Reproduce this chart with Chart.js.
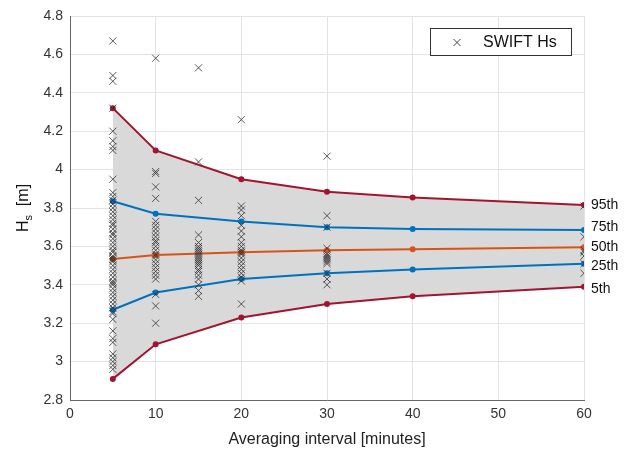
<!DOCTYPE html>
<html>
<head>
<meta charset="utf-8">
<script src="https://cdn.jsdelivr.net/npm/chart.js@4.4.1/dist/chart.umd.min.js"></script>
<style>
  html, body { margin: 0; padding: 0; background: #fff; }
  #wrap { width: 637px; height: 453px; }
</style>
</head>
<body>
<div id="wrap"><canvas id="chart" width="637" height="453"></canvas></div>
<script>
// Averaging intervals where percentiles were computed
const intervals = [5, 10, 20, 30, 40, 60];

// Percentile curves (Hs, m)
const p95 = [4.32, 4.10, 3.95, 3.885, 3.855, 3.815];
const p75 = [3.835, 3.77, 3.73, 3.70, 3.69, 3.685];
const p50 = [3.535, 3.555, 3.57, 3.58, 3.585, 3.595];
const p25 = [3.27, 3.36, 3.43, 3.46, 3.48, 3.51];
const p5  = [2.91, 3.09, 3.23, 3.30, 3.34, 3.39];

// SWIFT Hs samples per averaging interval
const swift5 = [4.67, 4.49, 4.46, 4.32, 4.20, 4.15, 4.12, 4.10, 3.95, 3.88, 3.86, 3.84, 3.82, 3.80,
  3.78, 3.76, 3.74, 3.72, 3.71, 3.69, 3.67, 3.66, 3.64, 3.62, 3.60, 3.58, 3.57, 3.55, 3.54, 3.53,
  3.52, 3.50, 3.48, 3.46, 3.44, 3.42, 3.41, 3.40, 3.38, 3.36, 3.34, 3.32, 3.30, 3.28, 3.26, 3.25,
  3.22, 3.16, 3.12, 3.10, 3.04, 3.02, 3.00, 2.98, 2.96];
const swift10 = [4.58, 3.99, 3.98, 3.91, 3.85, 3.73, 3.71, 3.69, 3.67, 3.65, 3.63, 3.62, 3.60, 3.58,
  3.56, 3.55, 3.53, 3.51, 3.49, 3.47, 3.45, 3.43, 3.35, 3.29, 3.20];
const swift15 = [4.53, 4.04, 3.84, 3.66, 3.62, 3.60, 3.59, 3.58, 3.57, 3.56, 3.55, 3.54, 3.53, 3.52,
  3.51, 3.50, 3.48, 3.47, 3.45, 3.43, 3.40, 3.37, 3.34];
const swift20 = [4.26, 3.81, 3.79, 3.76, 3.71, 3.68, 3.65, 3.62, 3.60, 3.58, 3.57, 3.56, 3.54, 3.52,
  3.50, 3.48, 3.46, 3.44, 3.42, 3.30];
const swift30 = [4.07, 3.76, 3.70, 3.59, 3.56, 3.55, 3.54, 3.53, 3.52, 3.51, 3.46, 3.43, 3.40];
const swift60 = [3.81, 3.65, 3.58, 3.57, 3.55, 3.51, 3.46];

const swiftGroups = [[5, swift5], [10, swift10], [15, swift15], [20, swift20], [30, swift30], [60, swift60]];

const percentileLabels = ['95th', '75th', '50th', '25th', '5th'];

const RED = '#A2142F';
const BLUE = '#0072BD';
const ORANGE = '#D95319';
const FONT = '"Liberation Sans", Arial, sans-serif';

const swiftPoints = [];
swiftGroups.forEach(([x, vals]) => vals.forEach(v => swiftPoints.push({ x, y: v })));

function curve(vals) {
  return intervals.map((x, i) => ({ x, y: vals[i] }));
}

function lineSet(label, vals, color, fill) {
  return {
    type: 'line',
    label,
    data: curve(vals),
    borderColor: color,
    backgroundColor: fill ? 'rgb(217,217,217)' : color,
    pointBackgroundColor: color,
    pointBorderColor: color,
    pointRadius: 2,
    borderWidth: 2,
    tension: 0,
    fill: fill || false
  };
}

// Right-hand percentile labels, legend box and y title
const decorations = {
  id: 'decorations',
  afterDraw(chart) {
    const ctx = chart.ctx;
    const xs = chart.scales.x, ys = chart.scales.y;
    const ends = [p95, p75, p50, p25, p5].map(a => a[a.length - 1]);
    ctx.save();
    ctx.fillStyle = '#111';
    ctx.font = '14px ' + FONT;
    ctx.textBaseline = 'middle';
    ctx.textAlign = 'left';
    const offsets = [0, -3, 0, 2, 2];
    ends.forEach((v, i) => {
      ctx.fillText(percentileLabels[i], xs.right + 7, ys.getPixelForValue(v) + offsets[i]);
    });

    // legend
    const lx = 430, ly = 28, lw = 141, lh = 27;
    ctx.fillStyle = '#fff';
    ctx.fillRect(lx, ly, lw, lh);
    ctx.strokeStyle = '#333';
    ctx.lineWidth = 1;
    ctx.strokeRect(lx + 0.5, ly + 0.5, lw, lh);
    ctx.strokeStyle = '#444';
    const mx = 457, my = ly + lh / 2 + 1, r = 3.5;
    ctx.beginPath();
    ctx.moveTo(mx - r, my - r); ctx.lineTo(mx + r, my + r);
    ctx.moveTo(mx + r, my - r); ctx.lineTo(mx - r, my + r);
    ctx.stroke();
    ctx.fillStyle = '#111';
    ctx.font = '16px ' + FONT;
    ctx.fillText('SWIFT Hs', 483, my);

    // y axis title: H_s [m]
    ctx.translate(24, (ys.top + ys.bottom) / 2);
    ctx.rotate(-Math.PI / 2);
    ctx.textAlign = 'left';
    ctx.font = '16px ' + FONT;
    const w1 = ctx.measureText('H').width;
    ctx.font = '11px ' + FONT;
    const w2 = ctx.measureText('s').width;
    ctx.font = '16px ' + FONT;
    const w3 = ctx.measureText('  [m]').width;
    let x0 = -(w1 + w2 + w3) / 2;
    ctx.fillText('H', x0, 0);
    ctx.font = '11px ' + FONT;
    ctx.fillText('s', x0 + w1, 5);
    ctx.font = '16px ' + FONT;
    ctx.fillText('  [m]', x0 + w1 + w2, 0);
    ctx.restore();
  }
};

new Chart(document.getElementById('chart'), {
  type: 'scatter',
  data: {
    datasets: [
      {
        label: 'SWIFT Hs',
        data: swiftPoints,
        pointStyle: 'crossRot',
        pointRadius: 5,
        borderColor: 'rgba(50,50,50,0.8)',
        borderWidth: 1,
        showLine: false
      },
      lineSet('95th', p95, RED, { target: 5 }),
      lineSet('75th', p75, BLUE),
      lineSet('50th', p50, ORANGE),
      lineSet('25th', p25, BLUE),
      lineSet('5th', p5, RED)
    ]
  },
  options: {
    responsive: false,
    animation: false,
    layout: { padding: { top: 16, right: 53, left: 0, bottom: 0 } },
    plugins: {
      legend: { display: false },
      tooltip: { enabled: false },
      filler: { drawTime: 'beforeDatasetsDraw' }
    },
    scales: {
      x: {
        type: 'linear',
        min: 0, max: 60,
        ticks: { stepSize: 10, color: '#333', font: { family: FONT, size: 14 }, padding: 6 },
        grid: { color: '#e3e3e3', drawTicks: false },
        border: { color: '#666', width: 1 },
        title: { display: true, text: 'Averaging interval [minutes]', color: '#222', font: { family: FONT, size: 16 }, padding: { top: 4 } },
        afterFit(s) { s.height = 53; }
      },
      y: {
        min: 2.8, max: 4.8,
        ticks: {
          stepSize: 0.2, color: '#333', font: { family: FONT, size: 14 }, padding: 7,
          callback: v => String(+v.toFixed(1))
        },
        grid: { color: '#e3e3e3', drawTicks: false },
        border: { color: '#666', width: 1 },
        afterFit(s) { s.width = 70; }
      }
    }
  },
  plugins: [decorations]
});
</script>
</body>
</html>
